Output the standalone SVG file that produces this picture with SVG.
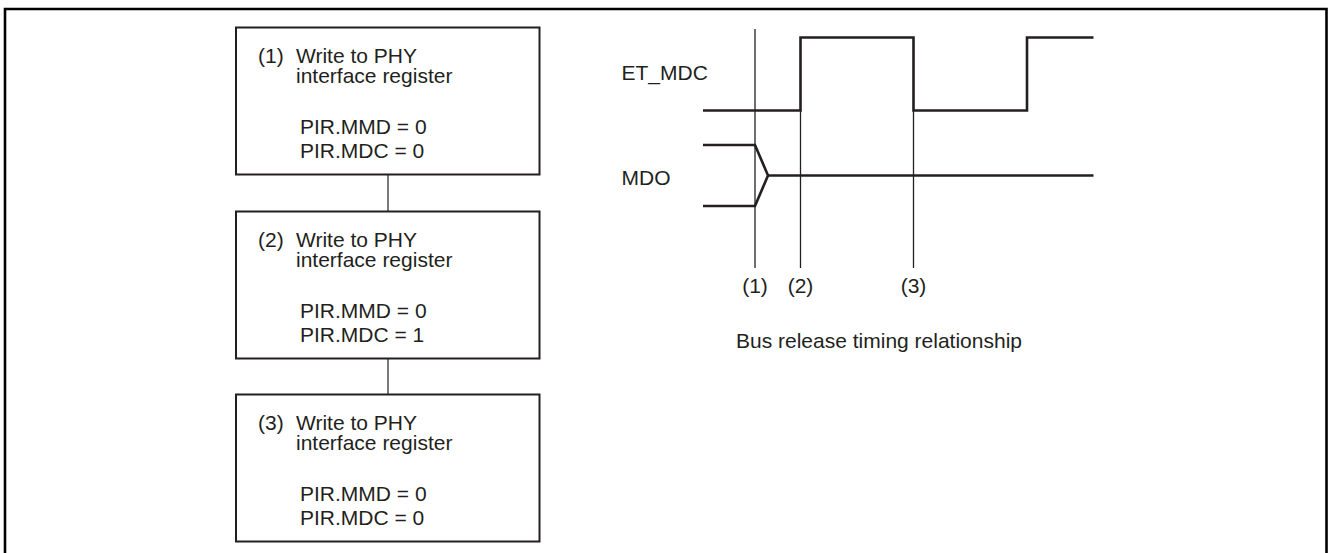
<svg xmlns="http://www.w3.org/2000/svg" width="1328" height="553" viewBox="0 0 1328 553">
<style>
text{font-family:"Liberation Sans",Arial,sans-serif;font-size:21px;fill:#231f20}
.box{fill:#fff;stroke:#231f20;stroke-width:2}
.conn{stroke:#231f20;stroke-width:1.2;fill:none}
.sig{stroke:#231f20;stroke-width:2.6;fill:none;stroke-linejoin:miter}
.mark{stroke:#231f20;stroke-width:1.3;fill:none}
.mid{text-anchor:middle}
</style>
<rect x="0" y="0" width="1328" height="553" fill="#fff"/>
<path d="M5,560 V9 H1326.5 V560" fill="none" stroke="#000" stroke-width="2.6"/>
<g id="connectors">
<line class="conn" x1="388" y1="174.5" x2="388" y2="211.5"/>
<line class="conn" x1="388" y1="358.5" x2="388" y2="394.5"/>
</g>
<g id="step1">
<rect class="box" x="236" y="27.5" width="303.5" height="147"/>
<text x="258" y="62.5">(1)</text>
<text x="296" y="62.5">Write to PHY</text>
<text x="296" y="83">interface register</text>
<text x="300" y="134">PIR.MMD = 0</text>
<text x="300" y="158">PIR.MDC = 0</text>
</g>
<g id="step2">
<rect class="box" x="236" y="211.5" width="303.5" height="147"/>
<text x="258" y="246.5">(2)</text>
<text x="296" y="246.5">Write to PHY</text>
<text x="296" y="267">interface register</text>
<text x="300" y="318">PIR.MMD = 0</text>
<text x="300" y="342">PIR.MDC = 1</text>
</g>
<g id="step3">
<rect class="box" x="236" y="394.5" width="303.5" height="147"/>
<text x="258" y="429.5">(3)</text>
<text x="296" y="429.5">Write to PHY</text>
<text x="296" y="450">interface register</text>
<text x="300" y="501">PIR.MMD = 0</text>
<text x="300" y="525">PIR.MDC = 0</text>
</g>
<g id="timing">
<line class="mark" x1="755" y1="29" x2="755" y2="268"/>
<line class="mark" x1="800.5" y1="110" x2="800.5" y2="268"/>
<line class="mark" x1="913.5" y1="110" x2="913.5" y2="268"/>
<path class="sig" d="M703,110.5 H800.5 V37.5 H913.5 V110.5 H1027 V37.5 H1093.5"/>
<path class="sig" d="M703,145 H755 L768,175.5 L755,206 H703"/>
<path class="sig" d="M768,175.5 H1093.5"/>
<text x="621.5" y="80">ET_MDC</text>
<text x="621.5" y="185">MDO</text>
<text class="mid" x="755" y="293">(1)</text>
<text class="mid" x="800.5" y="293">(2)</text>
<text class="mid" x="913.5" y="293">(3)</text>
<text x="736" y="348">Bus release timing relationship</text>
</g>
</svg>
